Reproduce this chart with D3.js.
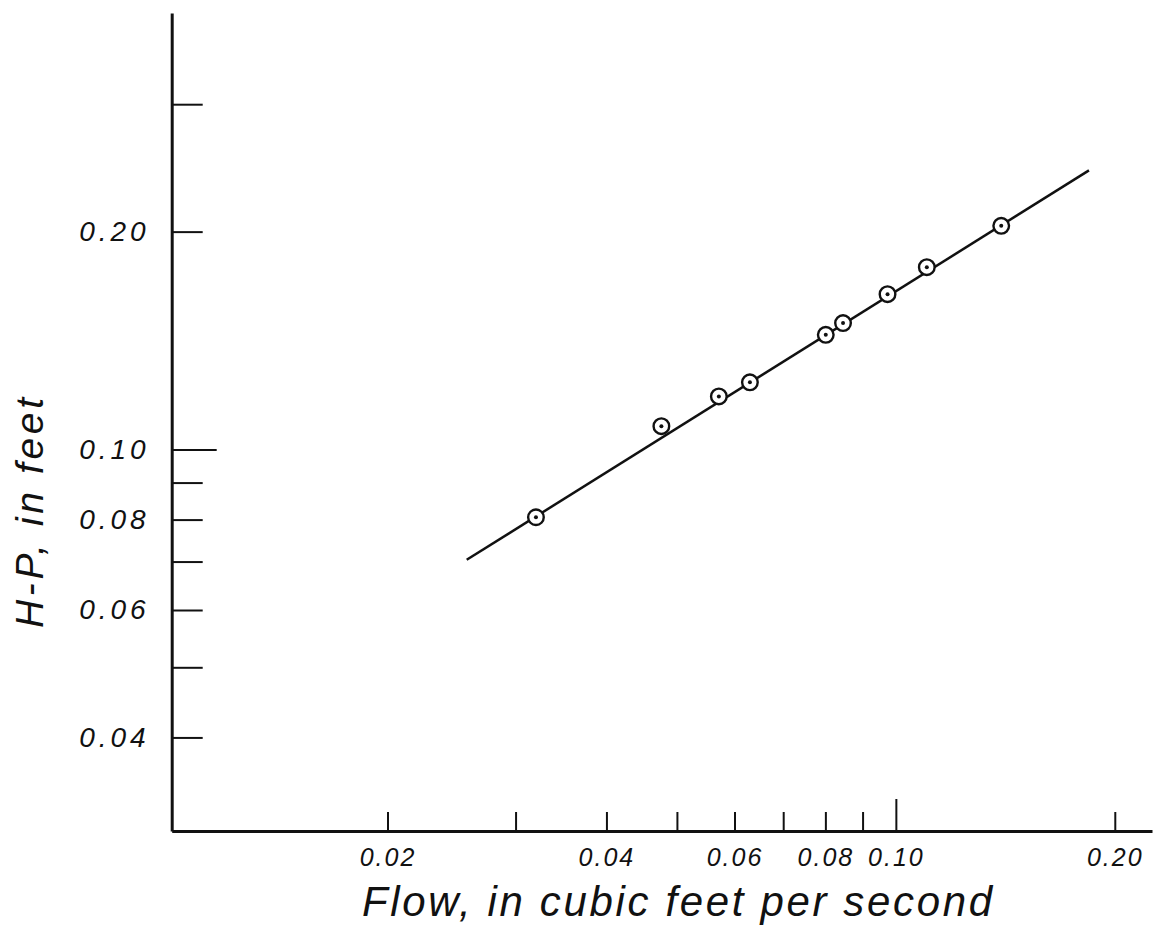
<!DOCTYPE html>
<html>
<head>
<meta charset="utf-8">
<script src="https://cdnjs.cloudflare.com/ajax/libs/d3/7.8.5/d3.min.js"></script>
<style>
  html, body { margin: 0; padding: 0; background: #fff; }
  svg { display: block; }
  .lbl { font-family: "Liberation Sans", "DejaVu Sans", sans-serif; font-style: italic; fill: #111; }
</style>
</head>
<body>
<svg id="chart" width="1156" height="929"></svg>
<script>
// Measured flow (cfs) against H-P (feet), log-log
const flow = [0.0320, 0.0476, 0.0571, 0.0630, 0.0801, 0.0846, 0.0974, 0.1103, 0.1396];
const headMinusP = [0.0806, 0.1077, 0.1184, 0.1238, 0.1440, 0.1495, 0.1639, 0.1786, 0.2037];

// Fitted straight line (end points)
const fitFlow = [0.0257, 0.1843];
const fitHead = [0.0704, 0.2430];

// Axis ticks
const flowTicks = [0.02, 0.03, 0.04, 0.05, 0.06, 0.07, 0.08, 0.09, 0.10, 0.20];
const flowTickLabels = ["0.02", "", "0.04", "", "0.06", "", "0.08", "", "0.10", "0.20"];
const headTicks = [0.04, 0.05, 0.06, 0.07, 0.08, 0.09, 0.10, 0.20, 0.30];
const headTickLabels = ["0.04", "", "0.06", "", "0.08", "", "0.10", "0.20", ""];

const svg = d3.select("#chart");
svg.append("rect").attr("width", 1156).attr("height", 929).attr("fill", "#fff");

const x = d3.scaleLog().domain([0.0101, 0.225]).range([171.7, 1152]);
const y = d3.scaleLog().domain([0.0297, 0.401]).range([831, 13]);

// X axis: short ticks inside, longer one at 0.10
const xAxis = d3.axisBottom(x)
  .tickValues(flowTicks)
  .tickSizeInner(-19)
  .tickSizeOuter(0)
  .tickPadding(17)
  .tickFormat((d, i) => flowTickLabels[i]);

const gx = svg.append("g").attr("transform", `translate(0,${y.range()[0]})`).call(xAxis);
gx.select(".domain").attr("stroke", "#111").attr("stroke-width", 3);
gx.selectAll(".tick line").attr("stroke", "#111").attr("stroke-width", 2)
  .filter(d => d === 0.10).attr("y2", -32);
gx.selectAll(".tick text").attr("class", "lbl").attr("font-size", 25).attr("fill", "#111")
  .attr("letter-spacing", 2);

// Y axis: ticks pointing into the plot, longer one at 0.10
const yAxis = d3.axisLeft(y)
  .tickValues(headTicks)
  .tickSizeInner(-31)
  .tickSizeOuter(0)
  .tickPadding(22)
  .tickFormat((d, i) => headTickLabels[i]);

const gy = svg.append("g").attr("transform", `translate(${x.range()[0]},0)`).call(yAxis);
gy.select(".domain").attr("stroke", "#111").attr("stroke-width", 3);
gy.selectAll(".tick line").attr("stroke", "#111").attr("stroke-width", 2)
  .filter(d => d === 0.10).attr("x2", 45);
gy.selectAll(".tick text").attr("class", "lbl").attr("font-size", 28).attr("fill", "#111")
  .attr("letter-spacing", 4);

svg.selectAll(".tick text").attr("font-family", null);

// Axis titles
svg.append("text").attr("class", "lbl")
  .attr("x", 677).attr("y", 916)
  .attr("text-anchor", "middle")
  .attr("font-size", 42)
  .attr("textLength", 630).attr("lengthAdjust", "spacing")
  .text("Flow, in cubic feet per second");

svg.append("text").attr("class", "lbl")
  .attr("transform", "translate(43,513) rotate(-90)")
  .attr("text-anchor", "middle")
  .attr("font-size", 39)
  .attr("textLength", 230).attr("lengthAdjust", "spacing")
  .text("H-P, in feet");

// Fitted line
svg.append("path")
  .datum(fitFlow.map((q, i) => [q, fitHead[i]]))
  .attr("fill", "none").attr("stroke", "#111").attr("stroke-width", 2.5)
  .attr("d", d3.line().x(d => x(d[0])).y(d => y(d[1])));

// Observations: circled dots
const pts = svg.append("g").selectAll("g")
  .data(flow.map((q, i) => [q, headMinusP[i]]))
  .join("g")
  .attr("transform", d => `translate(${x(d[0])},${y(d[1])})`);
pts.append("circle").attr("r", 7.8).attr("fill", "#fff").attr("stroke", "#111").attr("stroke-width", 2.4);
pts.append("circle").attr("r", 2).attr("fill", "#111");
</script>
</body>
</html>
